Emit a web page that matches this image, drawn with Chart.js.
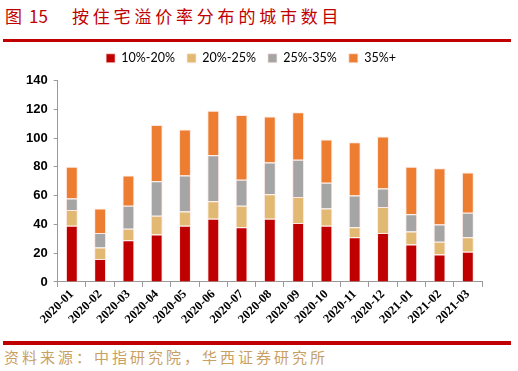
<!DOCTYPE html>
<html><head><meta charset="utf-8">
<script src="https://cdn.jsdelivr.net/npm/chart.js@4/dist/chart.umd.min.js"></script>
<style>
html,body{margin:0;padding:0;background:#fff;width:518px;height:371px;overflow:hidden;}
.title{position:absolute;top:3px;font-family:"Noto Sans CJK SC";font-size:17px;color:#C00000;white-space:nowrap;}
#t1{left:5px;}
#t1 span{margin-left:7px;}
#t2{left:72px;letter-spacing:3.8px;}
#topline{position:absolute;left:3px;top:39px;width:508px;height:3px;background:#C00000;}
#botline{position:absolute;left:3px;top:341px;width:508px;height:4px;background:#C00000;}
#source{position:absolute;left:4px;top:346px;font-family:"Noto Sans CJK SC";font-size:15px;color:#C9A063;letter-spacing:3px;}
#c{position:absolute;left:0;top:40px;}
</style></head><body>
<div class="title" id="t1">图<span>15</span></div>
<div class="title" id="t2">按住宅溢价率分布的城市数目</div>
<div id="topline"></div>
<canvas id="c" width="518" height="300"></canvas>
<div id="botline"></div>
<div id="source">资料来源：中指研究院，华西证券研究所</div>
<script>
const categories=["2020-01","2020-02","2020-03","2020-04","2020-05","2020-06","2020-07","2020-08","2020-09","2020-10","2020-11","2020-12","2021-01","2021-02","2021-03"];
const s10_20=[39,16,29,33,39,44,38,44,41,39,31,34,26,19,21];
const s20_25=[11,8,8,13,10,12,15,17,18,12,7,18,9,9,10];
const s25_35=[8,10,16,24,25,32,18,22,26,18,22,13,12,12,17];
const s35p=[22,17,21,39,32,31,45,32,33,30,37,36,33,39,28];
const seriesNames=["10%-20%","20%-25%","25%-35%","35%+"];
const yTicks=[0,20,40,60,80,100,120,140];
const colors=["#C00000","#E2B972","#A5A5A5","#ED7D31"];
const data=[s10_20,s20_25,s25_35,s35p];
const legendGap={id:'legendGap',beforeInit(chart){const l=chart.legend;const f=l.fit;l.fit=function(){f.call(this);this.height+=6;};}};
new Chart(document.getElementById('c'),{
 type:'bar',
 data:{labels:categories,datasets:data.map((d,i)=>({label:seriesNames[i],data:d,backgroundColor:colors[i],borderColor:'rgba(255,230,225,0.9)',borderWidth:{left:1,right:1,top:1,bottom:0},barPercentage:0.42,categoryPercentage:1}))},
 options:{responsive:false,animation:false,maintainAspectRatio:false,
  layout:{padding:{left:20,right:36,top:0,bottom:13}},
  plugins:{legend:{position:'top',labels:{boxWidth:9,boxHeight:9,padding:12,color:'#000',font:{family:'Lato',size:12.5}},},tooltip:{enabled:false}},
  scales:{
   x:{stacked:true,offset:true,grid:{display:true,drawOnChartArea:false,drawTicks:true,tickLength:5,color:'#999',offset:true},border:{color:'#999'},
      ticks:{autoSkip:false,maxRotation:45,minRotation:45,color:'#000',padding:0,font:{family:'Liberation Serif',size:12.5,weight:'bold'}}},
   y:{stacked:true,min:0,max:140,afterBuildTicks:ax=>{ax.ticks=yTicks.map(v=>({value:v}));},grid:{display:true,drawOnChartArea:false,drawTicks:true,tickLength:4,color:'#999'},border:{color:'#999'},
      ticks:{color:'#000',padding:6,font:{family:'Liberation Sans',size:13,weight:'bold'}}}
  }
 },
 plugins:[legendGap]
});
</script>
</body></html>
